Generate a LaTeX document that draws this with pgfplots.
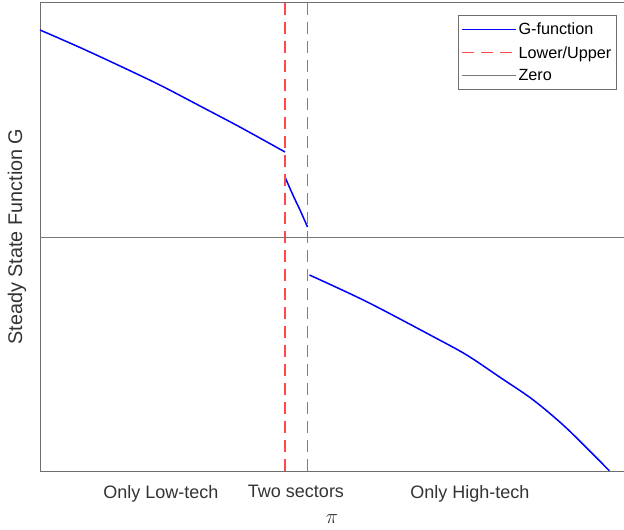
\documentclass[border=0pt]{standalone}
\usepackage{pgfplots}
\pgfplotsset{compat=1.18}
\usepackage{fontspec}
\setmainfont{Liberation Sans}
\definecolor{gblue}{rgb}{0,0,1}
\definecolor{axgray}{rgb}{0.43,0.43,0.43}
\definecolor{zgray}{rgb}{0.47,0.47,0.47}
\definecolor{hred}{HTML}{FF4848}
\begin{document}
\begin{tikzpicture}
\useasboundingbox (-40pt,-59pt) rectangle (584pt,471pt);
\begin{axis}[
  at={(0pt,0pt)}, anchor=south west,
  scale only axis, width=584pt, height=469pt,
  xmin=40, xmax=624, ymin=-234, ymax=235,
  separate axis lines,
  axis x line*=box, axis y line*=left,
  axis line style={axgray, line width=0.9pt, -},
  xtick={161,296,470},
  xticklabels={Only Low-tech, Two sectors, Only High-tech},
  ytick=\empty,
  major tick length=0pt,
  xticklabel style={font=\fontsize{18}{21}\selectfont, text=black!80, yshift=-10.5pt},
  xlabel={$\pi$},
  xlabel style={at={(axis description cs:0.5,0)}, anchor=center, yshift=-48.5pt, font=\fontsize{19.8}{22}\selectfont, text=black!80},
  ylabel={Steady State Function G},
  ylabel style={at={(axis description cs:0,0.5)}, anchor=center, yshift=23pt, font=\fontsize{19.8}{22}\selectfont, text=black!80},
  legend style={at={(0.9875,0.972)}, anchor=north east, draw=axgray, line width=0.8pt,
    font=\fontsize{16.2}{19}\selectfont, row sep=6pt, inner xsep=3pt, inner ysep=5.5pt},
  legend cell align=left,
  legend image code/.code={\draw[#1] (0pt,0pt) -- (54pt,0pt);},
  clip=false,
]
\addplot[gblue, line width=1.5pt, smooth] coordinates {
 (40,207) (80,189.5) (120,171) (160,151.9) (200,131) (240,109.9) (285,85)};
\addlegendentry{G-function}
\addplot[gblue, line width=1.5pt, smooth, forget plot] coordinates {
 (285,60) (290,48.5) (295,37.5) (300,27) (304,18) (307.5,10)};
\addplot[gblue, line width=1.5pt, smooth, forget plot] coordinates {
 (309.5,-38) (366.7,-64.7) (433.3,-99.7) (466.7,-118) (500,-140.3) (533.3,-163) (566.7,-191.3) (609.3,-233.7)};
\addplot[hred, line width=1.1pt, dash pattern=on 12pt off 7pt] coordinates {(285,-234) (285,235)};
\addlegendentry{Lower/Upper}
\addplot[hred, line width=1.1pt, dash pattern=on 12pt off 7pt, forget plot] coordinates {(307.5,-234) (307.5,235)};
\addplot[zgray, line width=0.8pt] coordinates {(40,0) (624,0)};
\addlegendentry{Zero}
\end{axis}
\end{tikzpicture}
\end{document}
